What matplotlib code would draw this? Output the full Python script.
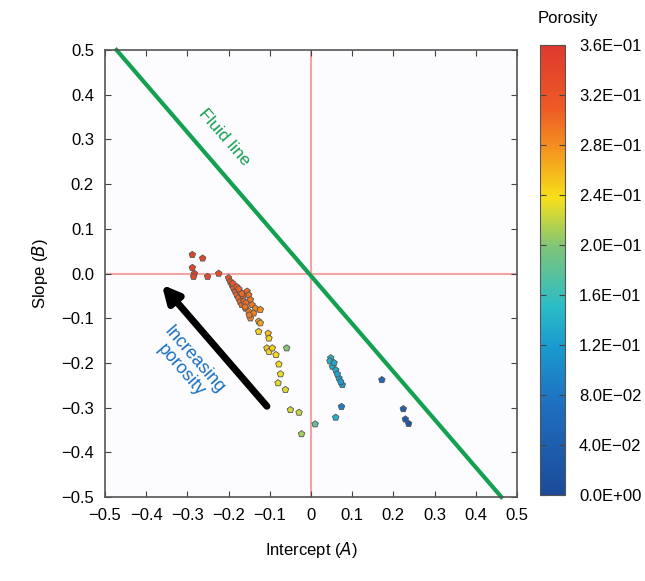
import matplotlib
matplotlib.use("Agg")
import matplotlib.pyplot as plt
import numpy as np
from matplotlib.colors import LinearSegmentedColormap

plt.rcParams['font.family'] = ['Liberation Sans', 'DejaVu Sans']

# Data (intercept A, slope B, porosity)
intercept = [-0.288, -0.263, -0.288, -0.283, -0.285, -0.251, -0.224,
             -0.200, -0.196, -0.192, -0.188, -0.184, -0.180, -0.176, -0.172, -0.168,
             -0.159, -0.151, -0.155, -0.151, -0.147, -0.143, -0.135, -0.123, -0.139,
             -0.147, -0.127, -0.123, -0.190, -0.180, -0.172, -0.165, -0.163, -0.158,
             -0.175, -0.168, -0.160, -0.150,
             -0.127, -0.104, -0.102, -0.107, -0.102, -0.094, -0.085, -0.059, -0.078,
             -0.074, -0.080, -0.062, -0.050, -0.029, 0.010, -0.023,
             0.048, 0.052, 0.060, 0.068, 0.076, 0.046, 0.056, 0.064, 0.072,
             0.172, 0.074, 0.060, 0.224, 0.229, 0.237]
slope = [0.042, 0.034, 0.013, 0.000, -0.007, -0.007, 0.000,
         -0.010, -0.018, -0.025, -0.033, -0.040, -0.048, -0.055, -0.063, -0.070,
         -0.078, -0.085, -0.040, -0.048, -0.059, -0.070, -0.078, -0.081, -0.089,
         -0.100, -0.107, -0.111, -0.022, -0.030, -0.041, -0.050, -0.062, -0.066,
         -0.035, -0.045, -0.075, -0.093,
         -0.130, -0.134, -0.145, -0.167, -0.175, -0.167, -0.182, -0.167, -0.203,
         -0.225, -0.245, -0.260, -0.305, -0.311, -0.337, -0.359,
         -0.189, -0.208, -0.216, -0.234, -0.249, -0.196, -0.200, -0.225, -0.242,
         -0.238, -0.298, -0.322, -0.303, -0.326, -0.336]
porosity = [0.345, 0.340, 0.345, 0.342, 0.340, 0.335, 0.330,
            0.320, 0.318, 0.315, 0.312, 0.310, 0.305, 0.302, 0.300, 0.298,
            0.295, 0.290, 0.300, 0.298, 0.295, 0.292, 0.285, 0.280, 0.288,
            0.285, 0.270, 0.268, 0.315, 0.310, 0.306, 0.303, 0.300, 0.297,
            0.305, 0.302, 0.296, 0.290,
            0.245, 0.255, 0.245, 0.250, 0.242, 0.248, 0.240, 0.200, 0.240,
            0.235, 0.232, 0.228, 0.225, 0.222, 0.180, 0.210,
            0.140, 0.135, 0.130, 0.125, 0.120, 0.138, 0.132, 0.128, 0.122,
            0.060, 0.085, 0.140, 0.040, 0.035, 0.030]

fluid_x = [-0.472, 0.462]
fluid_y = [0.5, -0.5]
cbar_ticks = [0.0, 0.04, 0.08, 0.12, 0.16, 0.20, 0.24, 0.28, 0.32, 0.36]
cbar_labels = ['0.0E+00', '4.0E\u221202', '8.0E\u221202', '1.2E\u221201', '1.6E\u221201',
               '2.0E\u221201', '2.4E\u221201', '2.8E\u221201', '3.2E\u221201', '3.6E\u221201']
xticks = [-0.5, -0.4, -0.3, -0.2, -0.1, 0, 0.1, 0.2, 0.3, 0.4, 0.5]
yticks = [-0.5, -0.4, -0.3, -0.2, -0.1, 0.0, 0.1, 0.2, 0.3, 0.4, 0.5]

cmap = LinearSegmentedColormap.from_list('por', [
    (0.0, '#1c4a9a'), (0.2, '#1f6fbf'), (0.33, '#1a9ad0'), (0.42, '#2bbdc6'),
    (0.55, '#7dc47a'), (0.66, '#f7e01a'), (0.76, '#f59a1f'), (0.86, '#ee5a26'),
    (1.0, '#de3a2e')])

fig = plt.figure(figsize=(6.45, 5.81), dpi=100)
ax = fig.add_axes([105/645, 1-497/581, 412/645, 447/581])
ax.set_facecolor('#fcfcfe')

ax.axhline(0, color='#f2a4a4', lw=1.5, zorder=1)
ax.axvline(0, color='#f2a4a4', lw=1.5, zorder=1)

ax.plot(fluid_x, fluid_y, color='#13a050', lw=3, zorder=2, clip_on=False)

sc = ax.scatter(intercept, slope, c=porosity, cmap=cmap, vmin=0, vmax=0.36,
                s=24, marker='p', edgecolors='#555555', linewidths=0.6, zorder=3)

ax.annotate('', xy=(-0.362, -0.025), xytext=(-0.107, -0.297),
            arrowprops=dict(arrowstyle='-|>,head_length=1.0,head_width=0.5',
                            color='black', lw=5, shrinkA=0, shrinkB=0), zorder=4)

ax.text(-0.21, 0.305, 'Fluid line', color='#13a050', fontsize=12.5,
        rotation=-49, ha='center', va='center', rotation_mode='anchor')
ax.text(-0.30, -0.205, 'Increasing\nporosity', color='#1a6fc0', fontsize=13,
        rotation=-49, ha='center', va='center', rotation_mode='anchor',
        linespacing=1.0)

ax.set_xlim(-0.5, 0.5)
ax.set_ylim(-0.5, 0.5)
ax.set_xticks(xticks)
ax.set_xticklabels(['\u22120.5', '\u22120.4', '\u22120.3', '\u22120.2', '\u22120.1', '0',
                    '0.1', '0.2', '0.3', '0.4', '0.5'])
ax.set_yticks(yticks)
ax.set_yticklabels(['\u22120.5', '\u22120.4', '\u22120.3', '\u22120.2', '\u22120.1', '0.0',
                    '0.1', '0.2', '0.3', '0.4', '0.5'])
ax.tick_params(direction='in', length=4, color='#444444', labelsize=12, pad=8,
               top=True, right=True)
for s in ax.spines.values():
    s.set_color('#555555')
    s.set_linewidth(1.2)

ax.set_xlabel('Intercept ($\\mathit{A}$)', fontsize=12, labelpad=12)
ax.set_ylabel('Slope ($\\mathit{B}$)', fontsize=12, labelpad=8)

cax = fig.add_axes([540/645, 1-495/581, 25/645, 450/581])
cb = fig.colorbar(sc, cax=cax)
cb.set_ticks(cbar_ticks)
cb.set_ticklabels(cbar_labels)
cax.tick_params(direction='in', length=4, labelsize=12, color='#444444', pad=10,
                left=True)
cb.outline.set_edgecolor('#555555')
fig.text(568/645, 1-18/581, 'Porosity', fontsize=12, ha='center', va='center')

fig.savefig('out.png', dpi=100)
